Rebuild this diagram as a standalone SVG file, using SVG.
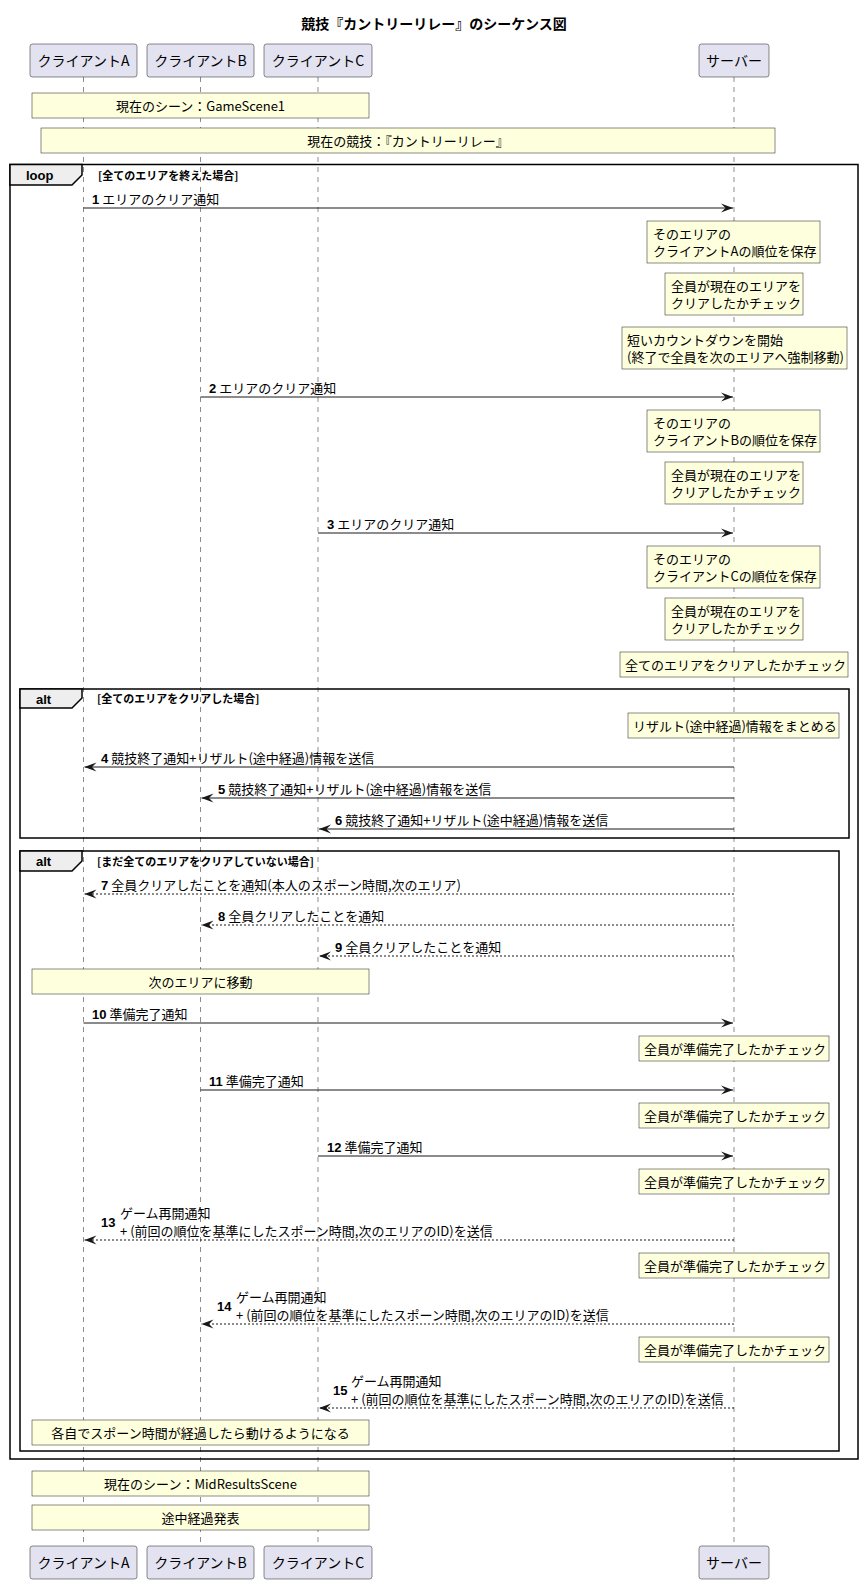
<svg xmlns="http://www.w3.org/2000/svg" width="863" height="1582" viewBox="0 0 863 1582">
<style>
text{font-family:"Noto Sans CJK JP","Liberation Sans",sans-serif;fill:#000}
.t{font-size:13px}
.pt{font-size:14px;text-anchor:middle}
.title{font-size:14px;font-weight:bold;text-anchor:middle}
.num{font-family:"Liberation Sans","Noto Sans CJK JP",sans-serif;font-weight:bold;font-size:13px}
.c{text-anchor:middle}
.part{fill:#E2E2F0;stroke:#181818;stroke-width:0.5}
.note{fill:#FEFFDD;stroke:#181818;stroke-width:0.5}
.life{stroke:#181818;stroke-width:0.5;stroke-dasharray:5,5}
.msg{stroke:#181818;stroke-width:1;fill:none}
.dash{stroke-dasharray:2,2}
.frame{fill:none;stroke:#000;stroke-width:1.5}
.tab{fill:#EEEEEE;stroke:#000;stroke-width:1.5}
.fl{font-size:13px;font-weight:bold;font-family:"Liberation Sans","Noto Sans CJK JP",sans-serif}
.guard{font-size:11px;font-weight:bold}
</style>
<defs>
<marker id="ah" markerWidth="12" markerHeight="10" refX="12" refY="5" orient="auto" markerUnits="userSpaceOnUse">
<path d="M0,0.5 L12,5 L0,9.5 L4.5,5 Z" fill="#181818" stroke="none"/>
</marker>
</defs>
<rect width="863" height="1582" fill="#FFFFFF"/>
<text class="title" x="434" y="29">競技『カントリーリレー』のシーケンス図</text>

<g id="lifelines">
<line class="life" x1="83.5" y1="77" x2="83.5" y2="1546"/>
<line class="life" x1="200.5" y1="77" x2="200.5" y2="1546"/>
<line class="life" x1="318" y1="77" x2="318" y2="1546"/>
<line class="life" x1="734" y1="77" x2="734" y2="1546"/>
</g>

<g id="frames">
<rect class="frame" x="10" y="164.5" width="848" height="1294.5"/>
<path class="tab" d="M10,164.5 H82 V175 L72,185 H10 Z"/>
<text class="fl" x="26" y="180">loop</text>
<text class="guard" x="98" y="180">[全てのエリアを終えた場合]</text>
<rect class="frame" x="20" y="689" width="829" height="149"/>
<path class="tab" d="M20,689 H82 V698 L72,708 H20 Z"/>
<text class="fl" x="36" y="704">alt</text>
<text class="guard" x="97" y="703">[全てのエリアをクリアした場合]</text>
<rect class="frame" x="20" y="851" width="819" height="600"/>
<path class="tab" d="M20,851 H82 V861 L72,871 H20 Z"/>
<text class="fl" x="36" y="866">alt</text>
<text class="guard" x="97" y="866">[まだ全てのエリアをクリアしていない場合]</text>
</g>

<g id="participant-A">
<rect class="part" x="30" y="44" width="107" height="33" rx="2.5"/>
<text class="pt" x="83.5" y="66">クライアントA</text>
<rect class="part" x="30" y="1546" width="107" height="33" rx="2.5"/>
<text class="pt" x="83.5" y="1568">クライアントA</text>
</g>
<g id="participant-B">
<rect class="part" x="147" y="44" width="107" height="33" rx="2.5"/>
<text class="pt" x="200.5" y="66">クライアントB</text>
<rect class="part" x="147" y="1546" width="107" height="33" rx="2.5"/>
<text class="pt" x="200.5" y="1568">クライアントB</text>
</g>
<g id="participant-C">
<rect class="part" x="264" y="44" width="108" height="33" rx="2.5"/>
<text class="pt" x="318" y="66">クライアントC</text>
<rect class="part" x="264" y="1546" width="108" height="33" rx="2.5"/>
<text class="pt" x="318" y="1568">クライアントC</text>
</g>
<g id="participant-server">
<rect class="part" x="699" y="44" width="70" height="33" rx="2.5"/>
<text class="pt" x="734" y="66">サーバー</text>
<rect class="part" x="699" y="1546" width="70" height="33" rx="2.5"/>
<text class="pt" x="734" y="1568">サーバー</text>
</g>

<g id="notes">
<g id="note-scene1"><rect class="note" x="32" y="93" width="337" height="25"/><text class="t c" x="200.5" y="111">現在のシーン：GameScene1</text></g>
<g id="note-game"><rect class="note" x="41" y="128" width="734" height="25"/><text class="t c" x="408" y="146">現在の競技：『カントリーリレー』</text></g>
<g id="note-saveA"><rect class="note" x="647" y="221" width="173" height="42"/><text class="t" x="653" y="239">そのエリアの</text><text class="t" x="653" y="256">クライアントAの順位を保存</text></g>
<g id="note-check1"><rect class="note" x="665" y="273" width="138" height="42"/><text class="t" x="671" y="291">全員が現在のエリアを</text><text class="t" x="671" y="308">クリアしたかチェック</text></g>
<g id="note-countdown"><rect class="note" x="622" y="327" width="225" height="42"/><text class="t" x="627" y="345">短いカウントダウンを開始</text><text class="t" x="627" y="362">(終了で全員を次のエリアへ強制移動)</text></g>
<g id="note-saveB"><rect class="note" x="647" y="410" width="173" height="42"/><text class="t" x="653" y="428">そのエリアの</text><text class="t" x="653" y="445">クライアントBの順位を保存</text></g>
<g id="note-check2"><rect class="note" x="665" y="462" width="138" height="42"/><text class="t" x="671" y="480">全員が現在のエリアを</text><text class="t" x="671" y="497">クリアしたかチェック</text></g>
<g id="note-saveC"><rect class="note" x="647" y="546" width="173" height="42"/><text class="t" x="653" y="564">そのエリアの</text><text class="t" x="653" y="581">クライアントCの順位を保存</text></g>
<g id="note-check3"><rect class="note" x="665" y="598" width="138" height="42"/><text class="t" x="671" y="616">全員が現在のエリアを</text><text class="t" x="671" y="633">クリアしたかチェック</text></g>
<g id="note-allcheck"><rect class="note" x="620" y="652" width="228" height="25"/><text class="t" x="625" y="670">全てのエリアをクリアしたかチェック</text></g>
<g id="note-result"><rect class="note" x="628" y="713" width="211" height="25"/><text class="t" x="633" y="731">リザルト(途中経過)情報をまとめる</text></g>
<g id="note-move"><rect class="note" x="32" y="969" width="337" height="25"/><text class="t c" x="200.5" y="987">次のエリアに移動</text></g>
<g id="note-ready1"><rect class="note" x="639" y="1036" width="190" height="25"/><text class="t" x="644" y="1054">全員が準備完了したかチェック</text></g>
<g id="note-ready2"><rect class="note" x="639" y="1103" width="190" height="25"/><text class="t" x="644" y="1121">全員が準備完了したかチェック</text></g>
<g id="note-ready3"><rect class="note" x="639" y="1169" width="190" height="25"/><text class="t" x="644" y="1187">全員が準備完了したかチェック</text></g>
<g id="note-ready4"><rect class="note" x="639" y="1253" width="190" height="25"/><text class="t" x="644" y="1271">全員が準備完了したかチェック</text></g>
<g id="note-ready5"><rect class="note" x="639" y="1337" width="190" height="25"/><text class="t" x="644" y="1355">全員が準備完了したかチェック</text></g>
<g id="note-spawn"><rect class="note" x="32" y="1420" width="337" height="25"/><text class="t c" x="200.5" y="1438">各自でスポーン時間が経過したら動けるようになる</text></g>
<g id="note-scene2"><rect class="note" x="32" y="1471" width="337" height="25"/><text class="t c" x="200.5" y="1489">現在のシーン：MidResultsScene</text></g>
<g id="note-mid"><rect class="note" x="32" y="1505" width="337" height="25"/><text class="t c" x="200.5" y="1523">途中経過発表</text></g>
</g>

<g id="connectors">
<line class="msg" x1="83.5" y1="208" x2="733" y2="208" marker-end="url(#ah)"/>
<text class="t" x="92" y="204"><tspan class="num">1</tspan><tspan dx="3">エリアのクリア通知</tspan></text>
<line class="msg" x1="200.5" y1="397" x2="733" y2="397" marker-end="url(#ah)"/>
<text class="t" x="209" y="393"><tspan class="num">2</tspan><tspan dx="3">エリアのクリア通知</tspan></text>
<line class="msg" x1="318" y1="533" x2="733" y2="533" marker-end="url(#ah)"/>
<text class="t" x="327" y="529"><tspan class="num">3</tspan><tspan dx="3">エリアのクリア通知</tspan></text>

<line class="msg" x1="734" y1="767" x2="84.5" y2="767" marker-end="url(#ah)"/>
<text class="t" x="101" y="763"><tspan class="num">4</tspan><tspan dx="3">競技終了通知+リザルト(途中経過)情報を送信</tspan></text>
<line class="msg" x1="734" y1="798" x2="201.5" y2="798" marker-end="url(#ah)"/>
<text class="t" x="218" y="794"><tspan class="num">5</tspan><tspan dx="3">競技終了通知+リザルト(途中経過)情報を送信</tspan></text>
<line class="msg" x1="734" y1="829" x2="319" y2="829" marker-end="url(#ah)"/>
<text class="t" x="335" y="825"><tspan class="num">6</tspan><tspan dx="3">競技終了通知+リザルト(途中経過)情報を送信</tspan></text>

<line class="msg dash" x1="734" y1="894" x2="84.5" y2="894" marker-end="url(#ah)"/>
<text class="t" x="101" y="890"><tspan class="num">7</tspan><tspan dx="3">全員クリアしたことを通知(本人のスポーン時間,次のエリア)</tspan></text>
<line class="msg dash" x1="734" y1="925" x2="201.5" y2="925" marker-end="url(#ah)"/>
<text class="t" x="218" y="921"><tspan class="num">8</tspan><tspan dx="3">全員クリアしたことを通知</tspan></text>
<line class="msg dash" x1="734" y1="956" x2="319" y2="956" marker-end="url(#ah)"/>
<text class="t" x="335" y="952"><tspan class="num">9</tspan><tspan dx="3">全員クリアしたことを通知</tspan></text>

<line class="msg" x1="83.5" y1="1023" x2="733" y2="1023" marker-end="url(#ah)"/>
<text class="t" x="92" y="1019"><tspan class="num">10</tspan><tspan dx="3">準備完了通知</tspan></text>
<line class="msg" x1="200.5" y1="1090" x2="733" y2="1090" marker-end="url(#ah)"/>
<text class="t" x="209" y="1086"><tspan class="num">11</tspan><tspan dx="3">準備完了通知</tspan></text>
<line class="msg" x1="318" y1="1156" x2="733" y2="1156" marker-end="url(#ah)"/>
<text class="t" x="327" y="1152"><tspan class="num">12</tspan><tspan dx="3">準備完了通知</tspan></text>

<line class="msg dash" x1="734" y1="1240" x2="84.5" y2="1240" marker-end="url(#ah)"/>
<text class="num" x="101" y="1227">13</text>
<text class="t" x="120" y="1218">ゲーム再開通知</text>
<text class="t" x="120" y="1236">+ (前回の順位を基準にしたスポーン時間,次のエリアのID)を送信</text>
<line class="msg dash" x1="734" y1="1324" x2="201.5" y2="1324" marker-end="url(#ah)"/>
<text class="num" x="217" y="1311">14</text>
<text class="t" x="236" y="1302">ゲーム再開通知</text>
<text class="t" x="236" y="1320">+ (前回の順位を基準にしたスポーン時間,次のエリアのID)を送信</text>
<line class="msg dash" x1="734" y1="1408" x2="319" y2="1408" marker-end="url(#ah)"/>
<text class="num" x="333" y="1395">15</text>
<text class="t" x="351" y="1386">ゲーム再開通知</text>
<text class="t" x="351" y="1404">+ (前回の順位を基準にしたスポーン時間,次のエリアのID)を送信</text>
</g>
</svg>
